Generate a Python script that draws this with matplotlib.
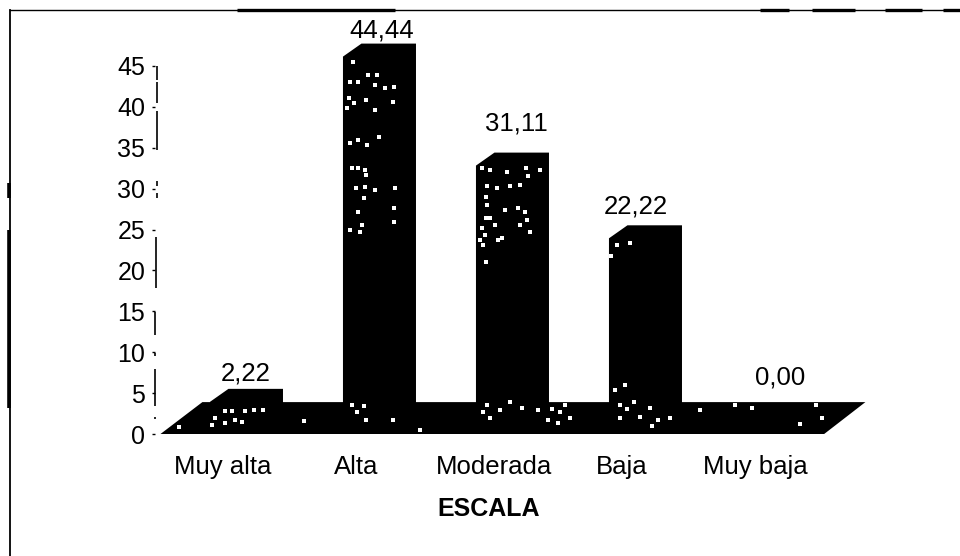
import matplotlib
matplotlib.use('Agg')
import matplotlib.pyplot as plt
from matplotlib.patches import Polygon
from matplotlib.transforms import ScaledTranslation

categories = ['Muy alta', 'Alta', 'Moderada', 'Baja', 'Muy baja']
values = [2.22, 44.44, 31.11, 22.22, 0.00]
value_labels = ['2,22', '44,44', '31,11', '22,22', '0,00']
y_ticks = [0, 5, 10, 15, 20, 25, 30, 35, 40, 45]
x_title = 'ESCALA'

plt.rcParams['font.family'] = ['Liberation Sans', 'DejaVu Sans']

W, H = 960, 556
fig = plt.figure(figsize=(W / 100, H / 100), dpi=100)

# axes placed so that y=0 is at pixel 434 and y=45 at pixel 66
left, right, top, bottom = 155, 870, 66, 434
ax = fig.add_axes([left / W, 1 - bottom / H, (right - left) / W, (bottom - top) / H])
ax.set_xlim((left - 223) / 133, (right - 223) / 133)
ax.set_ylim(0, 45)
for s in ax.spines.values():
    s.set_visible(False)

# fake 3d offsets, in data units
base = 1.71
depth_x = 0.139
depth_y = 1.59
front_w = 0.41
front_shift = -0.098

# floor
ax.add_patch(Polygon([(-0.47, 0), (-0.47 + 0.315, base + depth_y + 0.6),
                      (4.83, base + depth_y + 0.6), (4.52, 0)],
                     closed=True, fc='black', ec='none', clip_on=False))

# label nudges in pixels, the labels in the scan do not sit evenly over the bars
label_dx = [-1, 2, 4, -10, 2]
label_dy = [3, 1, 17, 7, 18]

for i, v in enumerate(values):
    x0 = i + front_shift
    x1 = x0 + front_w
    t = base + v
    if v > 0:
        ax.add_patch(Polygon([(x0, base), (x0, t), (x0 + depth_x, t + depth_y),
                              (x1 + depth_x, t + depth_y), (x1 + depth_x, base)],
                             closed=True, fc='black', ec='none', clip_on=False))
    ax.annotate(value_labels[i], (x0 + (front_w + depth_x) / 2, t + depth_y),
                xytext=(label_dx[i], label_dy[i]), textcoords='offset pixels',
                ha='center', va='bottom', fontsize=18.5, annotation_clip=False)

ax.set_xticks(range(len(categories)))
ax.set_xticklabels(categories, fontsize=18.5)
ax.set_yticks(y_ticks)
ax.tick_params(axis='x', length=0, pad=15)
ax.tick_params(axis='y', length=2, width=1, pad=5, labelsize=18)

# Moderada sits a little right of its slot
lab = ax.get_xticklabels()[2]
lab.set_transform(lab.get_transform() + ScaledTranslation(5 / 100, 0, fig.dpi_scale_trans))

ax.set_xlabel(x_title, fontsize=18, fontweight='bold', labelpad=16)
ax.xaxis.set_label_coords((489 - left) / (right - left), -(497 - bottom) / (bottom - top))

# overlay in image pixels for the scan artefacts
ov = fig.add_axes([0, 0, 1, 1], facecolor='none')
ov.set_xlim(0, W)
ov.set_ylim(H, 0)
ov.axis('off')

# frame: left and top only, with the heavier parts of the photocopy
ov.plot([10, 10], [10, 556], color='black', lw=1.3)
ov.plot([10, 960], [10, 10], color='black', lw=1.0)
for a, b in [(237, 395), (760, 789), (812, 855), (885, 922), (943, 960)]:
    ov.plot([a, b], [10, 10], color='black', lw=2.4, solid_capstyle='butt')
for a, b in [(183, 198), (230, 408)]:
    ov.plot([9, 9], [a, b], color='black', lw=2.6, solid_capstyle='butt')

# broken value axis
for a, b, x in [(66, 80, 156.5), (82, 103, 156.5), (111, 150, 156.5), (181, 186, 156.5),
                (193, 198, 156.5), (237, 288, 156), (312, 335, 155), (353, 356, 155),
                (369, 406, 154.5), (417, 419, 154.5)]:
    ov.plot([x, x], [a, b], color='black', lw=1.2, solid_capstyle='butt')

# white specks in the black fill
specks = [(353, 62), (350, 82), (358, 82), (368, 75), (377, 75), (375, 85), (385, 88), (394, 87),
          (349, 98), (354, 103), (347, 108), (366, 100), (393, 102), (375, 110),
          (350, 143), (358, 140), (367, 145), (379, 137), (352, 168), (358, 168), (365, 170),
          (356, 188), (365, 187), (375, 190), (364, 198), (358, 212), (362, 225), (360, 232),
          (395, 188), (394, 208), (394, 222), (350, 230), (366, 175),
          (352, 405), (357, 412), (364, 406), (366, 420), (393, 420),
          (482, 168), (490, 170), (507, 172), (526, 168), (540, 170), (528, 176), (487, 186),
          (497, 188), (510, 186), (520, 185), (486, 197), (487, 205), (490, 218), (505, 210),
          (518, 208), (525, 212), (482, 228), (486, 218), (527, 220), (520, 225), (485, 235),
          (483, 245), (498, 240), (495, 225), (480, 240), (530, 232), (502, 238), (486, 262),
          (487, 405), (483, 412), (490, 418), (500, 410), (510, 402), (522, 408), (538, 410),
          (552, 409), (560, 412), (565, 405), (570, 418), (548, 420), (558, 423),
          (617, 245), (630, 243), (611, 256), (615, 390), (625, 385), (634, 402), (620, 405),
          (627, 409), (640, 417), (650, 408), (658, 420), (670, 418), (620, 418), (700, 410),
          (735, 405), (752, 408), (816, 405), (822, 418), (800, 424), (652, 426),
          (225, 411), (232, 411), (245, 411), (235, 420), (242, 422), (212, 425), (215, 418),
          (225, 423), (254, 410), (263, 410), (304, 421), (179, 427), (420, 430)]
ov.scatter([p[0] for p in specks], [p[1] for p in specks], s=6, color='white', marker='s', linewidths=0)

fig.savefig('out.png', dpi=100)
